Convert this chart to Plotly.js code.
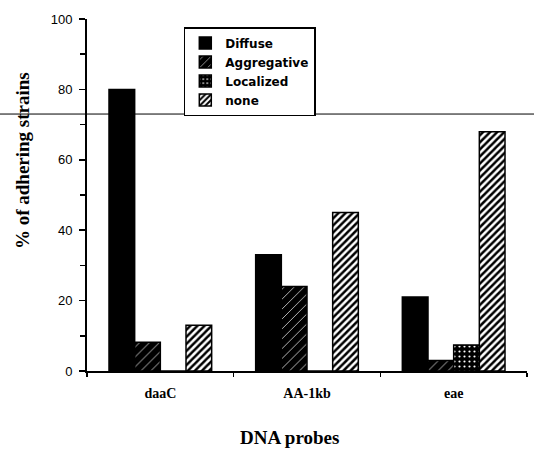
<!DOCTYPE html>
<html>
<head>
<meta charset="utf-8">
<script src="https://cdn.plot.ly/plotly-3.0.1.min.js"></script>
<style>html,body{margin:0;padding:0;background:#fff;}#chart{width:534px;height:450px;}</style>
</head>
<body>
<div id="chart"></div>
<script>
var categories = ['daaC', 'AA-1kb', 'eae'];
var seriesNames = ['Diffuse', 'Aggregative', 'Localized', 'none'];
var diffuse = [80, 33, 21];
var aggregative = [8.2, 24, 3];
var localized = [0, 0, 7.4];
var none = [13, 45, 68];
var yTicks = [0, 20, 40, 60, 80, 100];
var scanLineLevel = 73;

var patterns = [
  null,
  {shape: '/', fgcolor: 'white', bgcolor: 'black', size: 7, solidity: 0.1, fillmode: 'replace'},
  {shape: '.', fgcolor: 'white', bgcolor: 'black', size: 5, solidity: 0.15, fillmode: 'replace'},
  {shape: '/', fgcolor: 'black', bgcolor: 'white', size: 5, solidity: 0.5, fillmode: 'replace'}
];
var values = [diffuse, aggregative, localized, none];

var traces = values.map(function (v, i) {
  var marker = {color: i === 3 ? 'white' : 'black', line: {color: 'black', width: 1.5}};
  if (patterns[i]) marker.pattern = patterns[i];
  return {type: 'bar', name: seriesNames[i], x: categories, y: v, marker: marker, hoverinfo: 'skip'};
});

var layout = {
  width: 534, height: 450,
  margin: {l: 87, r: 7, t: 19, b: 79},
  paper_bgcolor: 'white', plot_bgcolor: 'white',
  barmode: 'group', bargap: 0.3, bargroupgap: 0,
  showlegend: true,
  legend: {
    x: 0.22, y: 0.977, xanchor: 'left', yanchor: 'top',
    bgcolor: 'white', bordercolor: 'black', borderwidth: 1.5,
    font: {family: 'DejaVu Sans', size: 12, color: 'black', weight: 'bold'},
    traceorder: 'normal', tracegroupgap: 0,
    entrywidth: 105, entrywidthmode: 'pixels'
  },
  xaxis: {
    type: 'category', tickson: 'boundaries', ticks: 'outside', ticklen: 4, tickwidth: 1.5, tickcolor: 'black',
    showline: true, linecolor: 'black', linewidth: 2, showgrid: false, zeroline: false,
    tickfont: {family: 'Liberation Serif', size: 14, color: 'black', weight: 'bold'},
    ticklabelstandoff: 8
  },
  yaxis: {
    range: [0, 100], tickmode: 'array', tickvals: yTicks, ticktext: yTicks.map(String),
    ticks: 'outside', ticklen: 6, tickwidth: 1.5, tickcolor: 'black',
    minor: {ticks: 'outside', ticklen: 5, tickwidth: 1.5, tickcolor: 'black', dtick: 10, tick0: 0, showgrid: false},
    showline: true, linecolor: 'black', linewidth: 2, showgrid: false, zeroline: false,
    tickfont: {family: 'Liberation Sans', size: 13, color: 'black'},
    ticklabelstandoff: 4
  },
  shapes: [{
    type: 'line', xref: 'paper', yref: 'y', x0: -0.2, x1: 1.02, y0: scanLineLevel, y1: scanLineLevel,
    line: {color: 'black', width: 1}
  }],
  annotations: [
    {text: '% of adhering strains', xref: 'paper', yref: 'paper', x: -0.145, y: 0.597,
     xanchor: 'center', yanchor: 'middle', textangle: -90, showarrow: false,
     font: {family: 'Liberation Serif', size: 19, color: 'black', weight: 'bold'}},
    {text: 'DNA probes', xref: 'paper', yref: 'paper', x: 0.46, y: -0.19,
     xanchor: 'center', yanchor: 'middle', showarrow: false,
     font: {family: 'Liberation Serif', size: 19, color: 'black', weight: 'bold'}}
  ]
};

Plotly.newPlot('chart', traces, layout, {displayModeBar: false, staticPlot: true});
</script>
</body>
</html>
